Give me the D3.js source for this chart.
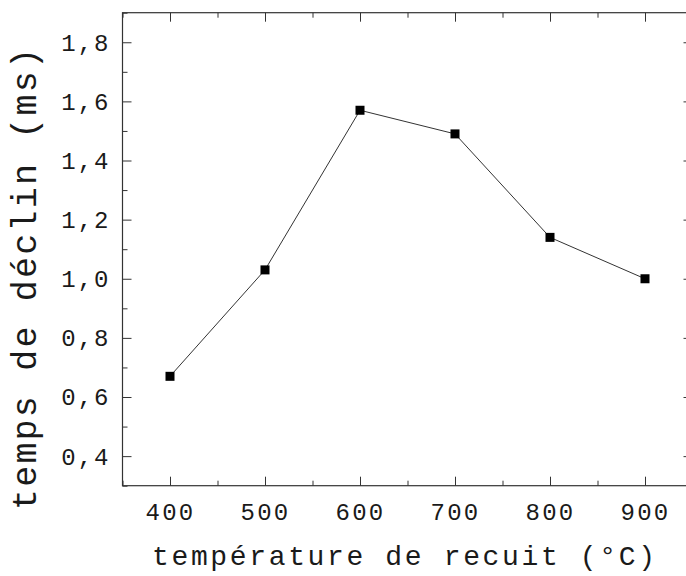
<!DOCTYPE html>
<html>
<head>
<meta charset="utf-8">
<script src="https://cdn.jsdelivr.net/npm/d3@7"></script>
<style>
  html, body { margin: 0; padding: 0; background: #fff; overflow: hidden; }
  svg { display: block; }
  text { font-family: "Liberation Mono", "Courier New", monospace; fill: #1a1a1a; }
</style>
</head>
<body>
<svg id="chart" width="686" height="576"></svg>
<script>
// temps de déclin vs température de recuit
const temperatures = [400, 500, 600, 700, 800, 900];
const decayTimes = [0.67, 1.03, 1.57, 1.49, 1.14, 1.00];
const xMajorTicks = [400, 500, 600, 700, 800, 900];
const xMinorTicks = [350, 450, 550, 650, 750, 850, 950];
const yMajorTicks = [0.4, 0.6, 0.8, 1.0, 1.2, 1.4, 1.6, 1.8];
const yMinorTicks = [0.3, 0.5, 0.7, 0.9, 1.1, 1.3, 1.5, 1.7, 1.9];

const frame = { left: 122.5, right: 692.5, top: 12.7, bottom: 485.7 };

const frFormat = d3.formatLocale({ decimal: ',', thousands: ' ', grouping: [3], currency: ['', ' €'] }).format('.1f');

const svg = d3.select('#chart');

const x = d3.scaleLinear().domain([350, 950]).range([frame.left, frame.right]);
const y = d3.scaleLinear().domain([0.3, 1.9]).range([frame.bottom, frame.top]);

const axisColor = '#333';
const majorLen = 9;
const minorLen = 5;

function styleAxis(g) {
  g.select('.domain').remove();
  g.selectAll('line').attr('stroke', axisColor).attr('stroke-width', 1);
}

// bottom axis, ticks pointing inward
svg.append('g')
  .attr('transform', `translate(0,${frame.bottom})`)
  .call(d3.axisBottom(x).tickValues(xMajorTicks).tickSize(-majorLen).tickPadding(0).tickFormat(d3.format('d')))
  .call(styleAxis)
  .call((g) => g.selectAll('text')
    .attr('y', 34)
    .attr('dy', null)
    .attr('font-size', 24)
    .attr('letter-spacing', 2.3)
    .attr('font-family', '"Liberation Mono", "Courier New", monospace')
    .attr('fill', '#1a1a1a'));

svg.append('g')
  .attr('transform', `translate(0,${frame.bottom})`)
  .call(d3.axisBottom(x).tickValues(xMinorTicks).tickSize(-minorLen).tickFormat(''))
  .call(styleAxis);

// top axis
svg.append('g')
  .attr('transform', `translate(0,${frame.top})`)
  .call(d3.axisTop(x).tickValues(xMajorTicks).tickSize(-majorLen).tickFormat(''))
  .call(styleAxis);
svg.append('g')
  .attr('transform', `translate(0,${frame.top})`)
  .call(d3.axisTop(x).tickValues(xMinorTicks).tickSize(-minorLen).tickFormat(''))
  .call(styleAxis);

// left axis
svg.append('g')
  .attr('transform', `translate(${frame.left},0)`)
  .call(d3.axisLeft(y).tickValues(yMajorTicks).tickSize(-majorLen).tickPadding(0).tickFormat(frFormat))
  .call(styleAxis)
  .call((g) => g.selectAll('text')
    .attr('x', -12)
    .attr('dy', '0.33em')
    .attr('font-size', 24)
    .attr('letter-spacing', 2.0)
    .attr('font-family', '"Liberation Mono", "Courier New", monospace')
    .attr('fill', '#1a1a1a'));
svg.append('g')
  .attr('transform', `translate(${frame.left},0)`)
  .call(d3.axisLeft(y).tickValues(yMinorTicks).tickSize(-minorLen).tickFormat(''))
  .call(styleAxis);

// right axis
svg.append('g')
  .attr('transform', `translate(${frame.right},0)`)
  .call(d3.axisRight(y).tickValues(yMajorTicks).tickSize(-majorLen).tickFormat(''))
  .call(styleAxis);
svg.append('g')
  .attr('transform', `translate(${frame.right},0)`)
  .call(d3.axisRight(y).tickValues(yMinorTicks).tickSize(-minorLen).tickFormat(''))
  .call(styleAxis);

// frame
svg.append('rect')
  .attr('x', frame.left)
  .attr('y', frame.top)
  .attr('width', frame.right - frame.left)
  .attr('height', frame.bottom - frame.top)
  .attr('fill', 'none')
  .attr('stroke', axisColor)
  .attr('stroke-width', 1.2);

// data line
const points = temperatures.map((t, i) => ({ t, v: decayTimes[i] }));

svg.append('path')
  .datum(points)
  .attr('fill', 'none')
  .attr('stroke', '#333')
  .attr('stroke-width', 1)
  .attr('d', d3.line().x((d) => x(d.t)).y((d) => y(d.v)));

const markerSize = 9;
svg.append('g')
  .selectAll('rect')
  .data(points)
  .join('rect')
  .attr('x', (d) => x(d.t) - markerSize / 2)
  .attr('y', (d) => y(d.v) - markerSize / 2)
  .attr('width', markerSize)
  .attr('height', markerSize)
  .attr('fill', '#000');

// axis titles
svg.append('text')
  .attr('x', 152)
  .attr('y', 565)
  .attr('font-size', 28)
  .attr('textLength', 503)
  .attr('lengthAdjust', 'spacing')
  .text('température de recuit (°C)');

svg.append('text')
  .attr('transform', 'translate(36,510) rotate(-90)')
  .attr('font-size', 35)
  .attr('textLength', 462)
  .attr('lengthAdjust', 'spacing')
  .text('temps de déclin (ms)');
</script>
</body>
</html>
